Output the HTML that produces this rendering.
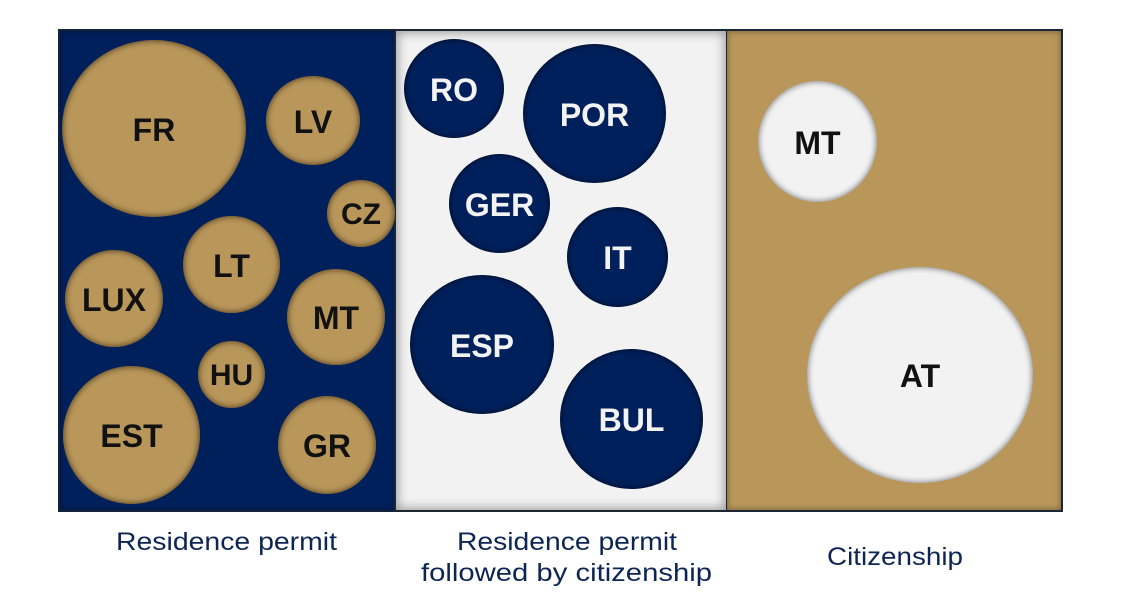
<!DOCTYPE html>
<html>
<head>
<meta charset="utf-8">
<style>
  html,body{margin:0;padding:0;background:#ffffff;}
  body{width:1123px;height:606px;position:relative;overflow:hidden;font-family:"Liberation Sans",Arial,sans-serif;}
  .panel{position:absolute;top:29px;height:483px;box-sizing:border-box;}
  #p1{left:58px;width:337px;background:#00205b;border:2px solid #14233a;border-right:none;box-shadow:inset 0 0 6px rgba(0,0,0,0.35);}
  #p2{left:394px;width:334px;background:#f2f2f2;border:2px solid #1b2733;box-shadow:inset 0 0 10px 2px rgba(0,0,0,0.35);}
  #p3{left:727px;width:336px;background:#b9975b;border:2px solid #1b2733;border-left:none;box-shadow:inset 0 0 7px rgba(0,0,0,0.4);}
  .c{position:absolute;border-radius:50%;display:flex;align-items:center;justify-content:center;font-weight:bold;font-size:32px;line-height:normal;white-space:nowrap;box-sizing:border-box;padding-top:3px;}
  .g{background:#b9975b;color:#111;box-shadow:inset 0 0 6px 1px rgba(40,25,0,0.65);}
  .n{background:#00205b;color:#f3f3f3;box-shadow:inset 0 0 5px 1px rgba(0,0,0,0.55);}
  .w{background:#f2f2f2;color:#111;box-shadow:inset 0 0 6px 1px rgba(0,0,0,0.45);}
  svg{position:absolute;left:0;top:0;}
</style>
</head>
<body>
<div class="panel" id="p1"></div>
<div class="panel" id="p2"></div>
<div class="panel" id="p3"></div>

<!-- Residence permit -->
<div class="c g" style="left:62px;top:40px;width:184px;height:177px;">FR</div>
<div class="c g" style="left:266px;top:76px;width:94px;height:89px;">LV</div>
<div class="c g" style="left:327px;top:180px;width:68px;height:67px;font-size:30px;">CZ</div>
<div class="c g" style="left:183px;top:216px;width:97px;height:97px;">LT</div>
<div class="c g" style="left:65px;top:250px;width:98px;height:97px;">LUX</div>
<div class="c g" style="left:287px;top:269px;width:98px;height:96px;">MT</div>
<div class="c g" style="left:198px;top:341px;width:67px;height:67px;font-size:30px;">HU</div>
<div class="c g" style="left:63px;top:366px;width:137px;height:138px;">EST</div>
<div class="c g" style="left:278px;top:396px;width:98px;height:98px;">GR</div>

<!-- Residence permit followed by citizenship -->
<div class="c n" style="left:404px;top:39px;width:100px;height:99px;">RO</div>
<div class="c n" style="left:523px;top:44px;width:143px;height:139px;">POR</div>
<div class="c n" style="left:449px;top:154px;width:101px;height:99px;">GER</div>
<div class="c n" style="left:567px;top:207px;width:101px;height:100px;">IT</div>
<div class="c n" style="left:410px;top:275px;width:144px;height:139px;">ESP</div>
<div class="c n" style="left:560px;top:349px;width:143px;height:140px;">BUL</div>

<!-- Citizenship -->
<div class="c w" style="left:758px;top:81px;width:119px;height:121px;">MT</div>
<div class="c w" style="left:807px;top:267px;width:226px;height:216px;">AT</div>

<svg width="1123" height="606" viewBox="0 0 1123 606">
  <g font-family="Liberation Sans, Arial, sans-serif" font-size="25" fill="#0d2552">
    <text x="116" y="550" textLength="221" lengthAdjust="spacingAndGlyphs">Residence permit</text>
    <text x="457" y="550" textLength="220" lengthAdjust="spacingAndGlyphs">Residence permit</text>
    <text x="421" y="581" textLength="291" lengthAdjust="spacingAndGlyphs">followed by citizenship</text>
    <text x="827" y="565" textLength="136" lengthAdjust="spacingAndGlyphs">Citizenship</text>
  </g>
</svg>
</body>
</html>
